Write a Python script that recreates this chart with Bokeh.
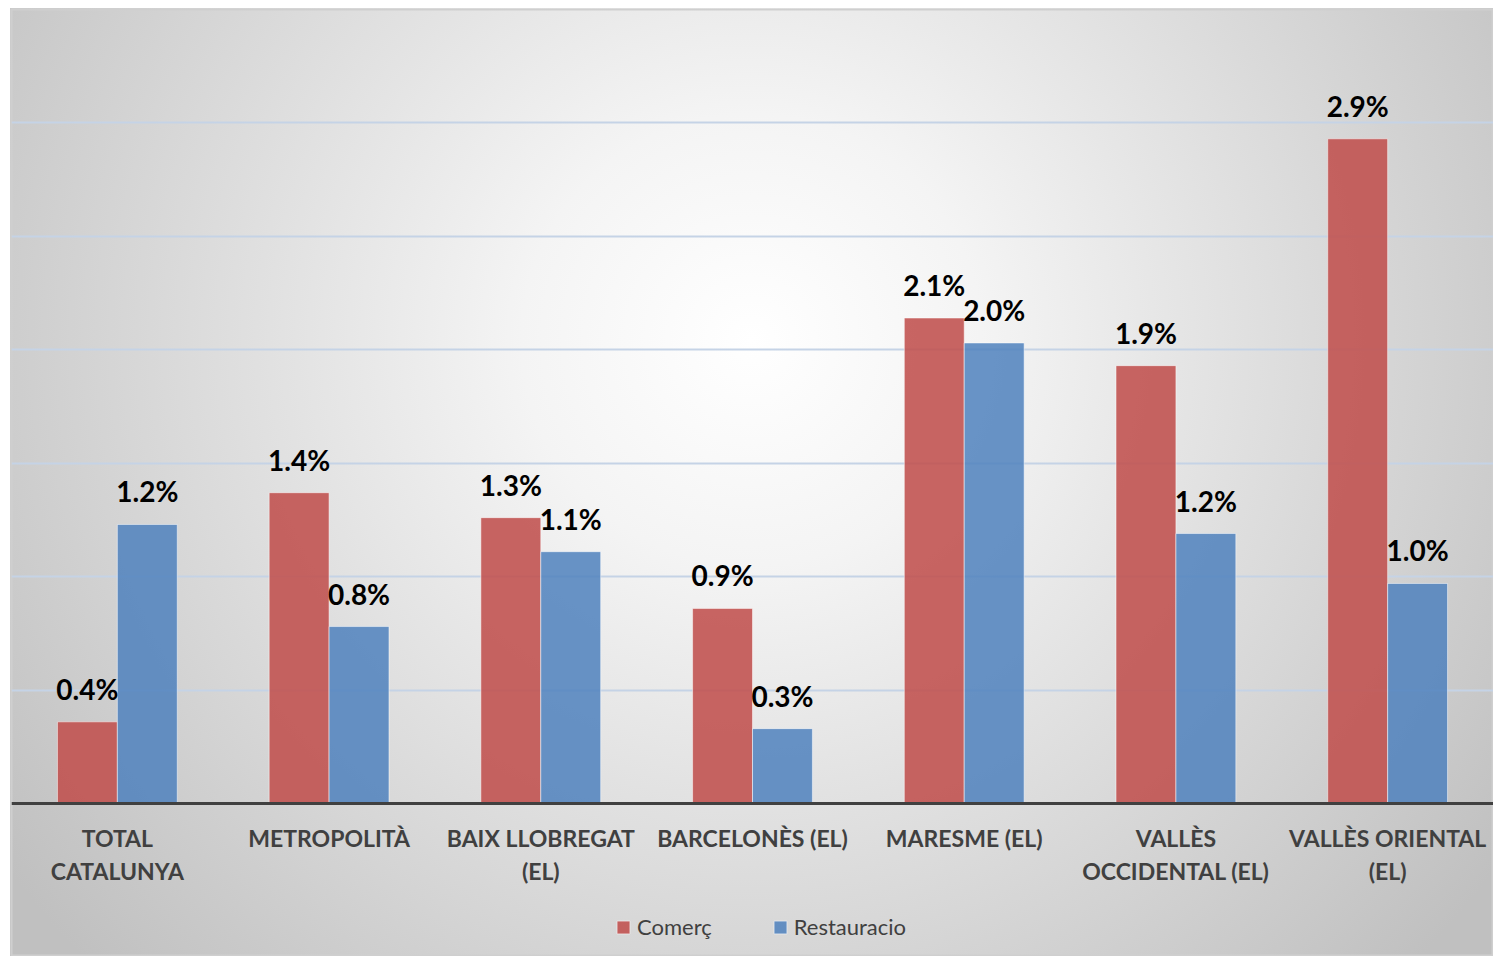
from bokeh.plotting import figure
from bokeh.models import ColumnDataSource, Legend, LegendItem, Range1d, FactorRange
from bokeh.transform import dodge
from bokeh.core.properties import value
from bokeh.embed import file_html
from bokeh.resources import INLINE

categories = ["TOTAL\nCATALUNYA", "METROPOLITÀ", "BAIX LLOBREGAT\n(EL)", "BARCELONÈS (EL)",
              "MARESME (EL)", "VALLÈS\nOCCIDENTAL (EL)", "VALLÈS ORIENTAL\n(EL)"]
comerc = [0.36, 1.37, 1.26, 0.86, 2.14, 1.93, 2.93]
restauracio = [1.23, 0.78, 1.11, 0.33, 2.03, 1.19, 0.97]
series_names = ["Comerç", "Restauracio"]
y_max = 3.5
grid_step = 0.5

# plot area: 794 px for 0..3.5, then extended below 0 to leave room for labels and legend
FRAME_H = 947
PLOT_H = 794
y_min = -y_max * (FRAME_H - PLOT_H) / PLOT_H

src = ColumnDataSource(dict(
    cat=categories,
    comerc=comerc,
    rest=restauracio,
    comerc_lbl=[f"{v:.1f}%" for v in comerc],
    rest_lbl=[f"{v:.1f}%" for v in restauracio],
))

p = figure(x_range=FactorRange(*categories, range_padding=0), y_range=Range1d(y_min, y_max),
           frame_width=1482, frame_height=FRAME_H, output_backend="svg", toolbar_location=None,
           min_border_left=1, min_border_right=0, min_border_top=1, min_border_bottom=0)
p.margin = (8, 0, 0, 10)

p.background_fill_alpha = 0
p.border_fill_alpha = 0
p.styles = {"background-image":
            "radial-gradient(ellipse 62% 95% at 50% 35%, #ffffff 0%, #f4f4f4 25%, #c0c0c0 100%)"}
p.outline_line_color = "#cfcfcf"
p.outline_line_width = 2

FONT = "Lato"
w = 0.283
off = 0.1415
red = "#c0504d"
blue = "#4f81bd"

r1 = p.vbar(x=dodge("cat", -off, range=p.x_range), top="comerc", bottom=0, width=w, source=src,
            fill_color=red, fill_alpha=0.88, line_color="white", line_alpha=0.5, line_width=1)
r2 = p.vbar(x=dodge("cat", off, range=p.x_range), top="rest", bottom=0, width=w, source=src,
            fill_color=blue, fill_alpha=0.85, line_color="white", line_alpha=0.5, line_width=1)

for col, lbl, o in (("comerc", "comerc_lbl", -off), ("rest", "rest_lbl", off)):
    p.text(x=dodge("cat", o, range=p.x_range), y=col, text=lbl, source=src,
           text_align="center", text_baseline="alphabetic", y_offset=-33,
           text_font=value(FONT), text_font_style="bold", text_font_size="28px",
           text_color="black")

p.yaxis.visible = False
p.ygrid.ticker = [grid_step * i for i in range(1, int(y_max / grid_step) + 1)]
p.ygrid.grid_line_color = "#c5d3e6"
p.ygrid.grid_line_width = 2
p.xgrid.grid_line_color = None

ax = p.xaxis[0]
ax.fixed_location = 0
ax.axis_line_color = "#404040"
ax.axis_line_width = 3
ax.major_tick_line_color = None
ax.minor_tick_line_color = None
ax.major_tick_out = 0
ax.major_tick_in = 0
ax.minor_tick_out = 0
ax.major_label_standoff = 20
ax.major_label_text_font = FONT
ax.major_label_text_font_style = "bold"
ax.major_label_text_font_size = "23px"
ax.major_label_text_color = "#404040"
ax.major_label_text_line_height = 1.2

legend = Legend(items=[LegendItem(label=series_names[0], renderers=[r1]),
                       LegendItem(label=series_names[1], renderers=[r2])],
                orientation="horizontal", location=(604, 16),
                background_fill_alpha=0, border_line_color=None,
                label_text_font=FONT, label_text_font_size="22px", label_text_color="#404040",
                glyph_width=16, glyph_height=16, spacing=60, label_standoff=6,
                margin=0, padding=4)
p.add_layout(legend)

open("out.html", "w").write(file_html(p, INLINE))
